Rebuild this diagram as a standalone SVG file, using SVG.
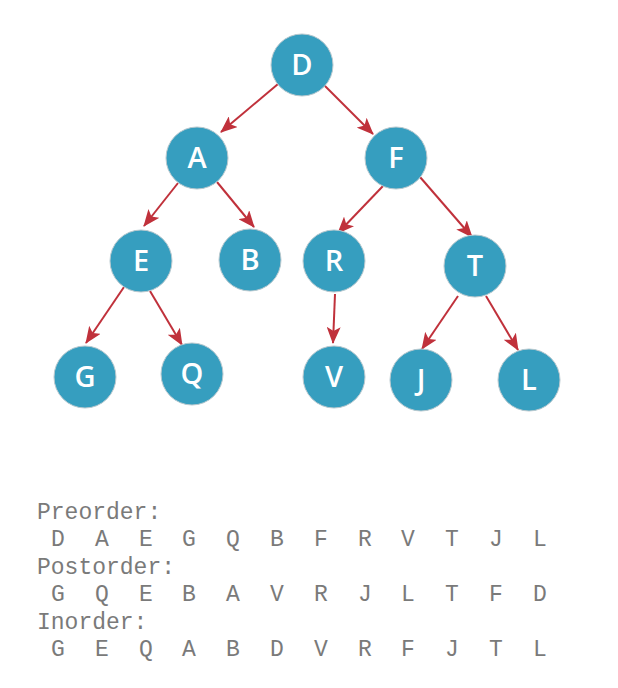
<svg xmlns="http://www.w3.org/2000/svg" width="618" height="688" viewBox="0 0 618 688">
<style>
.n{fill:#369ebf;stroke:#b9c9cf;stroke-width:1}
.l{font-family:"Open Sans","Liberation Sans",sans-serif;font-weight:600;font-size:29px;fill:#ffffff;text-anchor:middle}
.e{stroke:#c0313b;stroke-width:2;fill:none;marker-end:url(#ah)}
.t{font-family:"Liberation Mono",monospace;font-size:23px;fill:#7a7a7a}
.r{font-family:"Liberation Mono",monospace;font-size:23px;fill:#7a7a7a;text-anchor:middle}
</style>
<defs>
<marker id="ah" markerUnits="userSpaceOnUse" markerWidth="18" markerHeight="14" refX="16" refY="7" orient="auto">
<path d="M0,0 L17,7 L0,14 L4,7 z" fill="#c0313b"/>
</marker>
</defs>
<rect width="618" height="688" fill="#ffffff"/>
<g id="edges">
<line class="e" x1="278" y1="84" x2="221" y2="132"/>
<line class="e" x1="324" y1="85" x2="373" y2="134"/>
<line class="e" x1="178" y1="183" x2="144" y2="226"/>
<line class="e" x1="217" y1="182" x2="254" y2="227"/>
<line class="e" x1="383" y1="186" x2="338" y2="233"/>
<line class="e" x1="420" y1="177" x2="472" y2="237"/>
<line class="e" x1="124" y1="287" x2="86" y2="343"/>
<line class="e" x1="150" y1="291" x2="182" y2="345"/>
<line class="e" x1="335" y1="294" x2="333" y2="343"/>
<line class="e" x1="458" y1="296" x2="422" y2="349"/>
<line class="e" x1="486" y1="296" x2="518" y2="350"/>
</g>
<g id="nD"><circle class="n" cx="302" cy="65" r="31"/><text class="l" x="302" y="75">D</text></g>
<g id="nA"><circle class="n" cx="197" cy="158" r="31"/><text class="l" x="197" y="168">A</text></g>
<g id="nF"><circle class="n" cx="396" cy="158" r="31"/><text class="l" x="396" y="168">F</text></g>
<g id="nE"><circle class="n" cx="141" cy="261" r="31"/><text class="l" x="141" y="271">E</text></g>
<g id="nB"><circle class="n" cx="250" cy="260" r="31"/><text class="l" x="250" y="270">B</text></g>
<g id="nR"><circle class="n" cx="334" cy="261" r="31"/><text class="l" x="334" y="271">R</text></g>
<g id="nT"><circle class="n" cx="475" cy="266" r="31"/><text class="l" x="475" y="276">T</text></g>
<g id="nG"><circle class="n" cx="85" cy="377" r="31"/><text class="l" x="85" y="387">G</text></g>
<g id="nQ"><circle class="n" cx="192" cy="374" r="31"/><text class="l" x="192" y="384">Q</text></g>
<g id="nV"><circle class="n" cx="334" cy="377" r="31"/><text class="l" x="334" y="387">V</text></g>
<g id="nJ"><circle class="n" cx="421" cy="380" r="31"/><text class="l" x="421" y="390">J</text></g>
<g id="nL"><circle class="n" cx="529" cy="380" r="31"/><text class="l" x="529" y="390">L</text></g>
<g id="traversals">
<text class="t" x="37" y="519">Preorder:</text>
<text class="r" x="58 102 146 189 233 277 321 365 408 452 496 540" y="546">DAEGQBFRVTJL</text>
<text class="t" x="37" y="574">Postorder:</text>
<text class="r" x="58 102 146 189 233 277 321 365 408 452 496 540" y="601">GQEBAVRJLTFD</text>
<text class="t" x="37" y="629">Inorder:</text>
<text class="r" x="58 102 146 189 233 277 321 365 408 452 496 540" y="656">GEQABDVRFJTL</text>
</g>
</svg>
